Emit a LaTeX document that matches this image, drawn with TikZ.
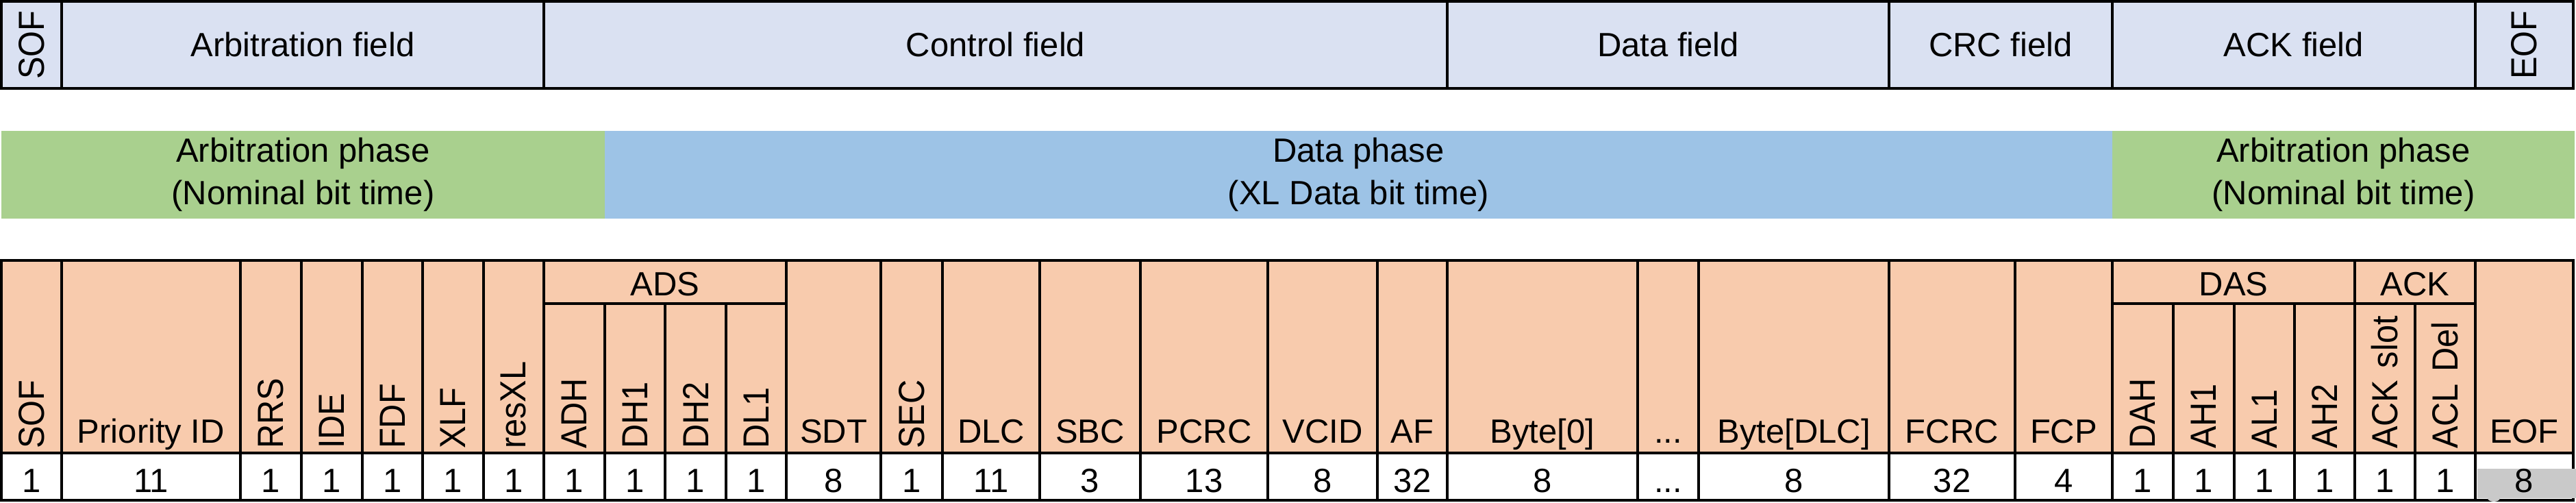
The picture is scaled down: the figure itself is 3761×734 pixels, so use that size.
\documentclass[tikz,border=0pt]{standalone}
\usepackage{fontspec}
\setmainfont{Liberation Sans}
\newfontfamily\narrowsans[FakeStretch=0.92]{Liberation Sans}
\usepackage{xcolor}
\usepackage{tikz}

\definecolor{fieldblue}{HTML}{DAE1F2}
\definecolor{nomgreen}{HTML}{A9D08E}
\definecolor{datablue}{HTML}{9DC3E6}
\definecolor{bitsalmon}{HTML}{F8CBAD}
\definecolor{eofgray}{HTML}{C9C9C9}

\newlength\pxu
\setlength\pxu{0.25pt}
\newcommand\lblfont{\fontsize{12.25pt}{15.5pt}\selectfont}
\newcommand\vlblfont{\narrowsans\fontsize{13.25pt}{15.5pt}\selectfont}

\tikzset{
  cellbase/.style ={draw,line width=0.9pt,outer sep=0pt,inner sep=0pt,
                    anchor=north west,font=\lblfont},
  fieldbox/.style ={cellbase,fill=fieldblue,minimum height=127\pxu},
  vfieldbox/.style={fieldbox,rotate=90,minimum width=127\pxu,font=\vlblfont},
  phasebox/.style ={fill=#1,outer sep=0pt,inner sep=0pt,anchor=north west,
                    minimum height=128\pxu,align=center,font=\lblfont},
  namecell/.style ={cellbase,fill=bitsalmon,minimum height=281\pxu,
                    text height=253\pxu,text depth=0pt},
  vnamecell/.style={cellbase,fill=bitsalmon,rotate=90,inner xsep=6\pxu,
                    minimum width=281\pxu,text width=269\pxu,align=left,
                    font=\vlblfont},
  vsubcell/.style ={vnamecell,minimum width=218\pxu,text width=206\pxu},
  grpcell/.style  ={cellbase,fill=bitsalmon,minimum height=63\pxu,
                    text height=41\pxu,text depth=0pt},
  valcell/.style  ={cellbase,fill=white,minimum height=69\pxu,
                    text height=47\pxu,text depth=0pt},
}

\begin{document}
\begin{tikzpicture}[x=0.25pt,y=0.25pt]
\useasboundingbox (0,0) rectangle (3761,-734);

% --- frame fields ----------------------------------------------------------
\node[vfieldbox,minimum height=88\pxu]  (fsof)  at (2,-129)    {SOF};
\node[fieldbox,minimum width=704\pxu]   (farb)  at (90,-2)     {Arbitration field};
\node[fieldbox,minimum width=1319\pxu]  (fctl)  at (794,-2)    {Control field};
\node[fieldbox,minimum width=645\pxu]   (fdata) at (2113,-2)   {Data field};
\node[fieldbox,minimum width=326\pxu]   (fcrc)  at (2758,-2)   {CRC field};
\node[fieldbox,minimum width=530\pxu]   (fack)  at (3084,-2)   {ACK field};
\node[vfieldbox,minimum height=143\pxu] (feof)  at (3614,-129) {EOF};

% --- bit time phases -------------------------------------------------------
\node[phasebox=nomgreen,minimum width=881\pxu]  (parb)  at (2,-191)
  {Arbitration phase\\(Nominal bit time)};
\node[phasebox=datablue,minimum width=2201\pxu] (pdata) at (883,-191)
  {Data phase\\(XL Data bit time)};
\node[phasebox=nomgreen,minimum width=675\pxu]  (pack)  at (3084,-191)
  {Arbitration phase\\(Nominal bit time)};

% --- bit names (rotated cells: minimum height is the column width) ---------
\node[vnamecell,minimum height=88\pxu]  (nsof)    at (2,-661)    {SOF};
\node[namecell,minimum width=261\pxu]   (npid)    at (90,-380)   {Priority ID};
\node[vnamecell,minimum height=89\pxu]  (nrrs)    at (351,-661)  {RRS};
\node[vnamecell,minimum height=89\pxu]  (nide)    at (440,-661)  {IDE};
\node[vnamecell,minimum height=88\pxu]  (nfdf)    at (529,-661)  {FDF};
\node[vnamecell,minimum height=89\pxu]  (nxlf)    at (617,-661)  {XLF};
\node[vnamecell,minimum height=88\pxu]  (nresxl)  at (706,-661)  {resXL};
\node[grpcell,minimum width=354\pxu]    (gads)    at (794,-380)  {ADS};
\node[vsubcell,minimum height=89\pxu]   (nadh)    at (794,-661)  {ADH};
\node[vsubcell,minimum height=88\pxu]   (ndh1)    at (883,-661)  {DH1};
\node[vsubcell,minimum height=89\pxu]   (ndh2)    at (971,-661)  {DH2};
\node[vsubcell,minimum height=88\pxu]   (ndl1)    at (1060,-661) {DL1};
\node[namecell,minimum width=138\pxu]   (nsdt)    at (1148,-380) {SDT};
\node[vnamecell,minimum height=90\pxu]  (nsec)    at (1286,-661) {SEC};
\node[namecell,minimum width=142\pxu]   (ndlc)    at (1376,-380) {DLC};
\node[namecell,minimum width=147\pxu]   (nsbc)    at (1518,-380) {SBC};
\node[namecell,minimum width=186\pxu]   (npcrc)   at (1665,-380) {PCRC};
\node[namecell,minimum width=160\pxu]   (nvcid)   at (1851,-380) {VCID};
\node[namecell,minimum width=102\pxu]   (naf)     at (2011,-380) {AF};
\node[namecell,minimum width=278\pxu]   (nbyte0)  at (2113,-380) {Byte[0]};
\node[namecell,minimum width=89\pxu]    (ndots)   at (2391,-380) {...};
\node[namecell,minimum width=278\pxu]   (nbyten)  at (2480,-380) {Byte[DLC]};
\node[namecell,minimum width=184\pxu]   (nfcrc)   at (2758,-380) {FCRC};
\node[namecell,minimum width=142\pxu]   (nfcp)    at (2942,-380) {FCP};
\node[grpcell,minimum width=354\pxu]    (gdas)    at (3084,-380) {DAS};
\node[vsubcell,minimum height=89\pxu]   (ndah)    at (3084,-661) {DAH};
\node[vsubcell,minimum height=89\pxu]   (nah1)    at (3173,-661) {AH1};
\node[vsubcell,minimum height=88\pxu]   (nal1)    at (3262,-661) {AL1};
\node[vsubcell,minimum height=88\pxu]   (nah2)    at (3350,-661) {AH2};
\node[grpcell,minimum width=176\pxu]    (gack)    at (3438,-380) {ACK};
\node[vsubcell,minimum height=88\pxu]   (nackslot) at (3438,-661) {ACK slot};
\node[vsubcell,minimum height=88\pxu]   (nackdel) at (3526,-661) {ACL Del};
\node[namecell,minimum width=143\pxu]   (neof)    at (3614,-380) {EOF};

% --- bit counts ------------------------------------------------------------
\node[valcell,minimum width=88\pxu]  (vsof)    at (2,-661)    {1};
\node[valcell,minimum width=261\pxu] (vpid)    at (90,-661)   {11};
\node[valcell,minimum width=89\pxu]  (vrrs)    at (351,-661)  {1};
\node[valcell,minimum width=89\pxu]  (vide)    at (440,-661)  {1};
\node[valcell,minimum width=88\pxu]  (vfdf)    at (529,-661)  {1};
\node[valcell,minimum width=89\pxu]  (vxlf)    at (617,-661)  {1};
\node[valcell,minimum width=88\pxu]  (vresxl)  at (706,-661)  {1};
\node[valcell,minimum width=89\pxu]  (vadh)    at (794,-661)  {1};
\node[valcell,minimum width=88\pxu]  (vdh1)    at (883,-661)  {1};
\node[valcell,minimum width=89\pxu]  (vdh2)    at (971,-661)  {1};
\node[valcell,minimum width=88\pxu]  (vdl1)    at (1060,-661) {1};
\node[valcell,minimum width=138\pxu] (vsdt)    at (1148,-661) {8};
\node[valcell,minimum width=90\pxu]  (vsec)    at (1286,-661) {1};
\node[valcell,minimum width=142\pxu] (vdlc)    at (1376,-661) {11};
\node[valcell,minimum width=147\pxu] (vsbc)    at (1518,-661) {3};
\node[valcell,minimum width=186\pxu] (vpcrc)   at (1665,-661) {13};
\node[valcell,minimum width=160\pxu] (vvcid)   at (1851,-661) {8};
\node[valcell,minimum width=102\pxu] (vaf)     at (2011,-661) {32};
\node[valcell,minimum width=278\pxu] (vbyte0)  at (2113,-661) {8};
\node[valcell,minimum width=89\pxu]  (vdots)   at (2391,-661) {...};
\node[valcell,minimum width=278\pxu] (vbyten)  at (2480,-661) {8};
\node[valcell,minimum width=184\pxu] (vfcrc)   at (2758,-661) {32};
\node[valcell,minimum width=142\pxu] (vfcp)    at (2942,-661) {4};
\node[valcell,minimum width=89\pxu]  (vdah)    at (3084,-661) {1};
\node[valcell,minimum width=89\pxu]  (vah1)    at (3173,-661) {1};
\node[valcell,minimum width=88\pxu]  (val1)    at (3262,-661) {1};
\node[valcell,minimum width=88\pxu]  (vah2)    at (3350,-661) {1};
\node[valcell,minimum width=88\pxu]  (vackslot) at (3438,-661) {1};
\node[valcell,minimum width=88\pxu]  (vackdel) at (3526,-661) {1};
\node[valcell,minimum width=143\pxu] (veof)    at (3614,-661) {};

% grey patch over the EOF count
\fill[eofgray] (3617,-684) rectangle (3761,-727);
\fill[eofgray] (3632,-727) arc[start angle=180,end angle=360,x radius=9,y radius=5];
\node[font=\lblfont,anchor=base,inner sep=0pt] (veight) at ([yshift=11\pxu]veof.south) {8};

\end{tikzpicture}
\end{document}
